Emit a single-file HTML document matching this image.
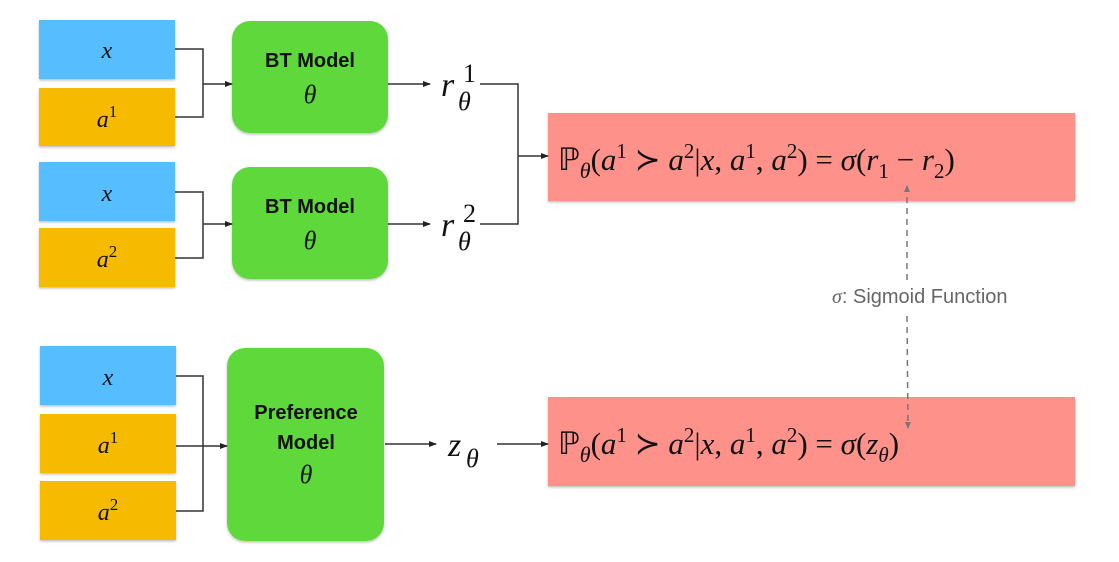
<!DOCTYPE html>
<html><head><style>
html,body{margin:0;padding:0;background:#fff;}
svg{display:block;}
.m{font-family:"Liberation Serif",serif;font-style:italic;fill:#111;}
.s{font-family:"Liberation Sans",sans-serif;font-weight:bold;fill:#111;}
</style></head><body>
<svg width="1119" height="562" viewBox="0 0 1119 562" xmlns="http://www.w3.org/2000/svg">
<defs>
<marker id="ar" markerWidth="8" markerHeight="8" refX="7" refY="4" orient="auto" markerUnits="userSpaceOnUse"><path d="M0,1 L8,4 L0,7 z" fill="#222"/></marker>
<marker id="ag" markerWidth="7" markerHeight="7" refX="6" refY="3.5" orient="auto" markerUnits="userSpaceOnUse"><path d="M0,0.5 L7,3.5 L0,6.5 z" fill="#777"/></marker>
<filter id="sh" x="-5%" y="-5%" width="110%" height="115%"><feDropShadow dx="0" dy="1.5" stdDeviation="1.2" flood-color="#000" flood-opacity="0.25"/></filter>
</defs>
<g filter="url(#sh)">
<rect x="39" y="20" width="136" height="59" fill="#56bdff"/>
<rect x="39" y="88" width="136" height="58" fill="#f6bb00"/>
<rect x="39" y="162" width="136" height="59" fill="#56bdff"/>
<rect x="39" y="228" width="136" height="59" fill="#f6bb00"/>
<rect x="40" y="346" width="136" height="59" fill="#56bdff"/>
<rect x="40" y="414" width="136" height="59" fill="#f6bb00"/>
<rect x="40" y="481" width="136" height="59" fill="#f6bb00"/>
<rect x="232" y="21" width="156" height="112" rx="18" fill="#5fd83a"/>
<rect x="232" y="167" width="156" height="112" rx="18" fill="#5fd83a"/>
<rect x="227" y="348" width="157" height="193" rx="18" fill="#5fd83a"/>
<rect x="548" y="113" width="527" height="88" fill="#fe928a"/>
<rect x="548" y="397" width="527" height="89" fill="#fe928a"/>
</g>
<g fill="none" stroke="#333" stroke-width="1.5">
<path d="M175,49 H203 V117 H175 M203,84 H231" />
<path d="M175,192 H203 V258 H175 M203,224 H231" />
<path d="M176,376 H203 V511 H176 M176,446 H226" />
<path d="M388,84 H429" /><path d="M388,224 H429" />
<path d="M480,84 H518 V224 H480 M518,156 H547" />
<path d="M385,444 H435" /><path d="M497,444 H547" />
</g>
<g stroke="#222" stroke-width="1.5">
<line x1="225" y1="84" x2="232" y2="84" marker-end="url(#ar)"/>
<line x1="225" y1="224" x2="232" y2="224" marker-end="url(#ar)"/>
<line x1="220" y1="446" x2="227" y2="446" marker-end="url(#ar)"/>
<line x1="423" y1="84" x2="430" y2="84" marker-end="url(#ar)"/>
<line x1="423" y1="224" x2="430" y2="224" marker-end="url(#ar)"/>
<line x1="541" y1="156" x2="548" y2="156" marker-end="url(#ar)"/>
<line x1="429" y1="444" x2="436" y2="444" marker-end="url(#ar)"/>
<line x1="541" y1="444" x2="548" y2="444" marker-end="url(#ar)"/>
</g>
<g stroke="#777" stroke-width="1.5" stroke-dasharray="6,5" fill="none">
<line x1="907" y1="280" x2="907" y2="186" marker-end="url(#ag)"/>
<line x1="907" y1="316" x2="908" y2="428" marker-end="url(#ag)"/>
</g>
<g class="m" text-anchor="middle">
<text x="107" y="58" font-size="24">x</text>
<text x="107" y="127" font-size="24">a<tspan font-style="normal" font-size="17" dy="-10">1</tspan></text>
<text x="107" y="201" font-size="24">x</text>
<text x="107" y="267" font-size="24">a<tspan font-style="normal" font-size="17" dy="-10">2</tspan></text>
<text x="108" y="385" font-size="24">x</text>
<text x="108" y="453" font-size="24">a<tspan font-style="normal" font-size="17" dy="-10">1</tspan></text>
<text x="108" y="520" font-size="24">a<tspan font-style="normal" font-size="17" dy="-10">2</tspan></text>
<text x="310" y="103" font-size="26">θ</text>
<text x="310" y="249" font-size="26">θ</text>
<text x="306" y="483" font-size="26">θ</text>
</g>
<g class="s" text-anchor="middle" font-size="20">
<text x="310" y="67">BT Model</text>
<text x="310" y="213">BT Model</text>
<text x="306" y="419">Preference</text>
<text x="306" y="449">Model</text>
</g>
<g class="m" font-size="34">
<text x="441" y="96">r</text><text x="463" y="82" font-style="normal" font-size="26">1</text><text x="458" y="110" font-size="26">θ</text>
<text x="441" y="236">r</text><text x="463" y="222" font-style="normal" font-size="26">2</text><text x="458" y="250" font-size="26">θ</text>
<text x="448" y="456">z</text><text x="466" y="467" font-size="26">θ</text>
</g>
<g class="m" font-size="31">
<text x="558" y="170"><tspan font-style="normal">ℙ</tspan><tspan font-size="22" dy="8">θ</tspan><tspan dy="-8" font-style="normal">(</tspan>a<tspan font-style="normal" font-size="21" dy="-12">1</tspan><tspan dy="12" font-style="normal"> ≻ </tspan>a<tspan font-style="normal" font-size="21" dy="-12">2</tspan><tspan dy="12" font-style="normal">|</tspan>x<tspan font-style="normal">, </tspan>a<tspan font-style="normal" font-size="21" dy="-12">1</tspan><tspan dy="12" font-style="normal">, </tspan>a<tspan font-style="normal" font-size="21" dy="-12">2</tspan><tspan dy="12" font-style="normal">) = </tspan>σ<tspan font-style="normal">(</tspan>r<tspan font-style="normal" font-size="21" dy="8">1</tspan><tspan dy="-8" font-style="normal"> − </tspan>r<tspan font-style="normal" font-size="21" dy="8">2</tspan><tspan dy="-8" font-style="normal">)</tspan></text>
<text x="558" y="454"><tspan font-style="normal">ℙ</tspan><tspan font-size="22" dy="8">θ</tspan><tspan dy="-8" font-style="normal">(</tspan>a<tspan font-style="normal" font-size="21" dy="-12">1</tspan><tspan dy="12" font-style="normal"> ≻ </tspan>a<tspan font-style="normal" font-size="21" dy="-12">2</tspan><tspan dy="12" font-style="normal">|</tspan>x<tspan font-style="normal">, </tspan>a<tspan font-style="normal" font-size="21" dy="-12">1</tspan><tspan dy="12" font-style="normal">, </tspan>a<tspan font-style="normal" font-size="21" dy="-12">2</tspan><tspan dy="12" font-style="normal">) = </tspan>σ<tspan font-style="normal">(</tspan>z<tspan font-size="21" dy="8">θ</tspan><tspan dy="-8" font-style="normal">)</tspan></text>
</g>
<text x="832" y="303" font-family="Liberation Sans,sans-serif" font-size="20" fill="#666"><tspan font-family="Liberation Serif,serif" font-style="italic">σ</tspan>: Sigmoid Function</text>
</svg>
</body></html>
